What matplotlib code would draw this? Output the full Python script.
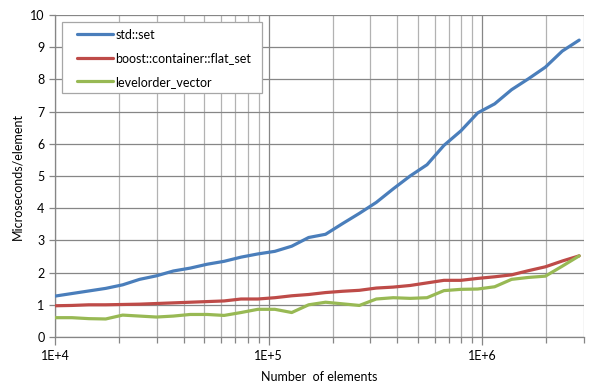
import math

import matplotlib

matplotlib.use("Agg")
import matplotlib.pyplot as plt
from matplotlib.patches import Rectangle
from matplotlib.ticker import FixedLocator, FuncFormatter, NullFormatter

plt.rcParams["font.family"] = ["Lato", "DejaVu Sans"]

# element counts (x, log scale)
n_elements = [
    10000, 12000, 14400, 17280, 20736, 24883, 29860, 35832, 42998, 51598,
    61917, 74301, 89161, 106993, 128392, 154070, 184884, 221861, 266233,
    319480, 383376, 460051, 552061, 662474, 794968, 953962, 1144755,
    1373706, 1648447, 1978136, 2373763, 2848516,
]

std_set = [
    1.27, 1.35, 1.43, 1.51, 1.62, 1.79, 1.90, 2.05, 2.14, 2.26,
    2.35, 2.48, 2.58, 2.66, 2.82, 3.09, 3.19, 3.52, 3.84, 4.18,
    4.60, 5.00, 5.35, 5.95, 6.40, 6.96, 7.24, 7.68, 8.02, 8.38,
    8.88, 9.22,
]

flat_set = [
    0.97, 0.98, 1.00, 1.00, 1.01, 1.02, 1.04, 1.06, 1.08, 1.10,
    1.12, 1.18, 1.18, 1.22, 1.28, 1.32, 1.38, 1.42, 1.45, 1.52,
    1.55, 1.60, 1.68, 1.76, 1.76, 1.82, 1.87, 1.93, 2.06, 2.18,
    2.36, 2.52,
]

levelorder = [
    0.60, 0.60, 0.57, 0.56, 0.68, 0.65, 0.62, 0.65, 0.70, 0.70,
    0.67, 0.76, 0.86, 0.86, 0.76, 1.00, 1.08, 1.03, 0.98, 1.18,
    1.22, 1.20, 1.22, 1.44, 1.48, 1.49, 1.56, 1.79, 1.85, 1.89,
    2.20, 2.52,
]

series_names = ["std::set", "boost::container::flat_set", "levelorder_vector"]
series_colors = ["#4a7ebb", "#be4b48", "#98b954"]

# plot area in pixels (606x390 canvas)
AX_L, AX_T, AX_R, AX_B = 55, 15, 584, 337
AW, AH = AX_R - AX_L, AX_B - AX_T

fig = plt.figure(figsize=(6.06, 3.90), dpi=100)
ax = fig.add_axes([AX_L / 606, (390 - AX_B) / 390, AW / 606, AH / 390])

for vals, name, col in zip([std_set, flat_set, levelorder], series_names, series_colors):
    ax.plot(n_elements, vals, color=col, lw=2.3, label=name, solid_capstyle="round", zorder=3)

ax.set_xscale("log")
ax.set_xlim(1e4, 3e6)
ax.set_ylim(0, 10)

ax.xaxis.set_major_locator(FixedLocator([1e4, 1e5, 1e6]))
ax.xaxis.set_major_formatter(FuncFormatter(lambda v, p: "1E+%d" % round(math.log10(v))))
minors = [m * 10 ** e for e in (4, 5) for m in range(2, 10)] + [2e6, 3e6]
ax.xaxis.set_minor_locator(FixedLocator(minors))
ax.xaxis.set_minor_formatter(NullFormatter())
ax.set_yticks(range(0, 11))

ax.grid(True, which="major", axis="both", color="#868686", lw=0.9, zorder=0)
ax.grid(True, which="minor", axis="x", color="#b2b2b2", lw=0.9, zorder=0)

for s in ("top", "right"):
    ax.spines[s].set_visible(False)
for s in ("left", "bottom"):
    ax.spines[s].set_color("#868686")
    ax.spines[s].set_linewidth(0.9)

ax.tick_params(axis="both", which="major", length=4, width=0.9, color="#868686",
               labelsize=9, labelcolor="#000000", direction="out")
ax.tick_params(axis="x", which="minor", length=4, width=0.9, color="#868686", direction="out")
ax.tick_params(axis="x", which="major", length=6, pad=3)

ax.set_xlabel("Number  of elements", fontsize=9, labelpad=7)
ax.set_ylabel("Microseconds/element", fontsize=9, labelpad=5)

# legend frame drawn by hand (Excel pads the left side more than the top)
ax.add_patch(Rectangle(((62 - AX_L) / AW, (AX_B - 93) / AH), 200 / AW, 71 / AH,
                       transform=ax.transAxes, facecolor="white", edgecolor="#a6a6a6",
                       lw=0.9, zorder=4))
leg = ax.legend(loc="upper left", bbox_to_anchor=((77 - AX_L) / AW, 1 - (28.5 - AX_T) / AH),
                fontsize=9, frameon=False, handlelength=2.9, handletextpad=0.15,
                labelspacing=0.93, borderpad=0, borderaxespad=0)
leg.set_zorder(5)

fig.savefig("out.png", dpi=100, facecolor="white")
